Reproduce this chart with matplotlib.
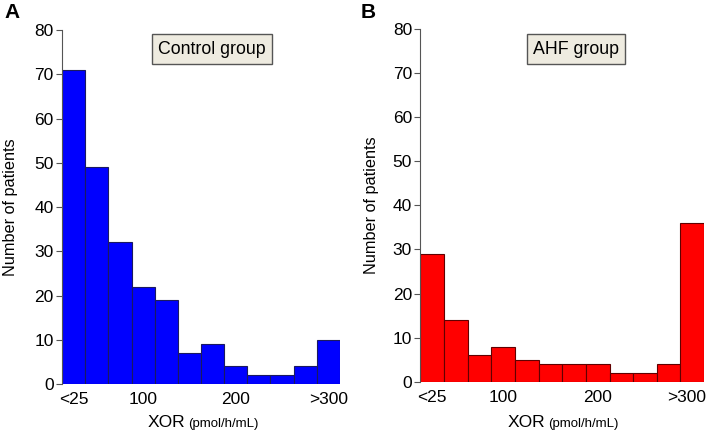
import matplotlib.pyplot as plt
import matplotlib.transforms as mtrans

plt.rcParams['font.family'] = ['Liberation Sans', 'DejaVu Sans']

# bins of XOR activity (12 classes), only some are labelled
bins = list(range(12))
tick_pos = [0, 3, 7, 11]
tick_labels = ['<25', '100', '200', '>300']

control = [71, 49, 32, 22, 19, 7, 9, 4, 2, 2, 4, 10]
ahf = [29, 14, 6, 8, 5, 4, 4, 4, 2, 2, 4, 36]

fig = plt.figure(figsize=(7.09, 4.30), dpi=100)
axA = fig.add_axes([0.0875, 0.107, 0.392, 0.823])
axB = fig.add_axes([0.593, 0.112, 0.400, 0.821])

panels = [
    (axA, control, 'blue', '#1a1a60', 'Control group', 212, 185, -0.16),
    (axB, ahf, 'red', '#600000', 'AHF group', 576, 545, -0.146),
]

for ax, vals, col, edge, title, boxx, splitx, labx in panels:
    ax.bar(bins, vals, width=1.0, color=col, edgecolor=edge, linewidth=0.8)
    ax.set_xlim(-0.5, 11.5)
    ax.set_ylim(0, 80)
    ax.set_yticks(range(0, 81, 10))
    ax.set_xticks(tick_pos)
    ax.set_xticklabels(tick_labels)
    ax.tick_params(axis='x', length=0, pad=6, labelsize=12.5)
    ax.tick_params(axis='y', length=4, width=0.8, color='#555555', pad=2, labelsize=12.5)
    for s in ['top', 'right', 'bottom']:
        ax.spines[s].set_visible(False)
    ax.spines['left'].set_color('#555555')
    ax.spines['left'].set_linewidth(0.8)
    ax.set_ylabel('Number of patients', fontsize=11.7)
    ax.yaxis.set_label_coords(labx, 0.5)
    fig.text(boxx / 709, 1 - 49 / 430, title, ha='center', va='center', fontsize=12.8,
             bbox=dict(boxstyle='square,pad=0.35', facecolor='#eeebe0', edgecolor='#555555', linewidth=1))
    fig.text(splitx / 709, 1 - 427 / 430, 'XOR', ha='right', va='baseline', fontsize=12.5)
    fig.text((splitx + 3) / 709, 1 - 427 / 430, '(pmol/h/mL)', ha='left', va='baseline', fontsize=9.5)

# last label of panel B sits against the figure edge, nudge it left a bit
lbl = axB.get_xticklabels()[-1]
lbl.set_transform(lbl.get_transform() + mtrans.ScaledTranslation(-4 / 72, 0, fig.dpi_scale_trans))

fig.text(4 / 709, 1 - 18 / 430, 'A', fontsize=15, fontweight='bold', va='baseline')
fig.text(361 / 709, 1 - 18 / 430, 'B', fontsize=15, fontweight='bold', va='baseline')

fig.savefig('out.png', dpi=100)
